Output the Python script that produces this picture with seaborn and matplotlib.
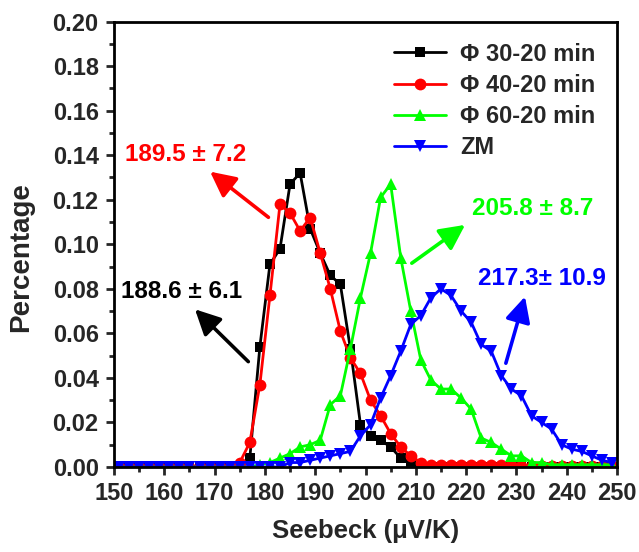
import matplotlib
matplotlib.use("Agg")
import matplotlib.pyplot as plt
import seaborn as sns
import pandas as pd
from matplotlib.ticker import MultipleLocator

sns.set_theme(style="white")
plt.rcParams['font.family'] = ['Liberation Sans', 'DejaVu Sans']
plt.rcParams['font.weight'] = 'bold'
plt.rcParams['mathtext.default'] = 'regular'

seebeck = [151, 153, 155, 157, 159, 161, 163, 165, 167, 169,
           171, 173, 175, 177, 179, 181, 183, 185, 187, 189,
           191, 193, 195, 197, 199, 201, 203, 205, 207, 209,
           211, 213, 215, 217, 219, 221, 223, 225, 227, 229,
           231, 233, 235, 237, 239, 241, 243, 245, 247, 249]

phi_30 = [0, 0, 0, 0, 0, 0, 0, 0, 0, 0,
          0, 0, 0, 0.004, 0.054, 0.091, 0.098, 0.127, 0.132, 0.107,
          0.096, 0.086, 0.082, 0.053, 0.019, 0.014, 0.012, 0.009, 0.004, 0.0015,
          0, 0, 0, 0, 0, 0, 0, 0, 0, 0,
          0, 0, 0, 0, 0, 0, 0, 0, 0, 0]

phi_40 = [0, 0, 0, 0, 0, 0, 0, 0, 0, 0,
          0, 0, 0.002, 0.011, 0.037, 0.077, 0.118, 0.114, 0.106, 0.112,
          0.096, 0.080, 0.061, 0.049, 0.042, 0.030, 0.023, 0.015, 0.009, 0.005,
          0.002, 0.001, 0.001, 0.001, 0.001, 0.001, 0.001, 0.001, 0.001, 0.001,
          0.0005, 0.0005, 0.0005, 0.0005, 0.0005, 0.0005, 0.0005, 0.0005, 0.0005, 0.0005]

phi_60 = [0, 0, 0, 0, 0, 0, 0, 0, 0, 0,
          0, 0, 0, 0, 0.001, 0.002, 0.004, 0.006, 0.009, 0.010,
          0.012, 0.028, 0.032, 0.053, 0.076, 0.096, 0.121, 0.127, 0.094, 0.070,
          0.048, 0.039, 0.035, 0.035, 0.031, 0.026, 0.013, 0.011, 0.008, 0.005,
          0.005, 0.002, 0.002, 0.001, 0.001, 0.001, 0.001, 0.001, 0.001, 0.001]

zm = [0, 0, 0, 0, 0, 0, 0, 0, 0, 0,
      0, 0, 0, 0, 0, 0, 0, 0.002, 0.002, 0.003,
      0.004, 0.005, 0.006, 0.007, 0.014, 0.019, 0.031, 0.041, 0.052, 0.064,
      0.068, 0.076, 0.080, 0.077, 0.070, 0.065, 0.055, 0.052, 0.041, 0.035,
      0.032, 0.023, 0.020, 0.017, 0.010, 0.008, 0.007, 0.005, 0.003, 0.002]

series_names = ["\u03a6 30-20 min", "\u03a6 40-20 min", "\u03a6 60-20 min", "ZM"]
series_values = [phi_30, phi_40, phi_60, zm]
colors = ["#000000", "#FF0000", "#00FF00", "#0000FF"]
markers = ["s", "o", "^", "v"]
msizes = [7, 8.5, 9, 9]

x_ticks = [150, 160, 170, 180, 190, 200, 210, 220, 230, 240, 250]
y_ticks = [0.00, 0.02, 0.04, 0.06, 0.08, 0.10, 0.12, 0.14, 0.16, 0.18, 0.20]

annotations = [
    ("189.5 \u00b1 7.2", (164.3, 0.1401), (180.7, 0.1121), (169.1, 0.1326), "#FF0000"),
    ("188.6 \u00b1 6.1", (163.5, 0.0787), (176.7, 0.0473), (166.1, 0.0708), "#000000"),
    ("205.8 \u00b1 8.7", (233.3, 0.1162), (209.2, 0.0915), (219.8, 0.1087), "#00FF00"),
    ("217.3\u00b1 10.9", (235.0, 0.0847), (227.9, 0.0466), (231.7, 0.0765), "#0000FF"),
]

fig = plt.figure(figsize=(6.39, 5.52), dpi=100)
ax = fig.add_axes([0.1784, 0.154, 0.7872, 0.807])

for name, vals, c, m, ms in zip(series_names, series_values, colors, markers, msizes):
    df = pd.DataFrame({"Seebeck": seebeck, "Percentage": vals})
    sns.lineplot(data=df, x="Seebeck", y="Percentage", ax=ax, color=c,
                 marker=m, markersize=ms, markeredgecolor=c, markeredgewidth=0,
                 linewidth=2, label=name)

for text, tpos, tail, head, c in annotations:
    ax.annotate("", xy=head, xytext=tail,
                arrowprops=dict(arrowstyle="-|>,head_length=0.9,head_width=0.45",
                                color=c, lw=2.6, shrinkA=0, shrinkB=0,
                                mutation_scale=17))
    ax.text(tpos[0], tpos[1], text, color=c, fontsize=17.5, fontweight="bold",
            ha="center", va="center")

ax.set_xlim(150, 250)
ax.set_ylim(0, 0.20)
ax.set_xticks(x_ticks)
ax.set_yticks(y_ticks)
ax.set_xticklabels([str(v) for v in x_ticks])
ax.set_yticklabels([f"{v:.2f}" for v in y_ticks])
ax.xaxis.set_minor_locator(MultipleLocator(5))
ax.yaxis.set_minor_locator(MultipleLocator(0.01))
ax.tick_params(axis="both", which="major", direction="out", length=6, width=2,
               labelsize=17, bottom=True, left=True, top=False, right=False, pad=5)
ax.tick_params(axis="both", which="minor", direction="out", length=3.5, width=2,
               bottom=True, left=True, top=False, right=False)
for lab in ax.get_xticklabels() + ax.get_yticklabels():
    lab.set_fontweight("bold")
for sp in ax.spines.values():
    sp.set_linewidth(2)
    sp.set_color("black")

ax.set_xlabel("Seebeck (\u03bcV/K)", fontsize=18.5, fontweight="bold", labelpad=10)
ax.set_ylabel("Percentage", fontsize=20, fontweight="bold")
ax.yaxis.set_label_coords(-0.158, 0.471)

leg = ax.legend(loc="upper right", bbox_to_anchor=(0.99, 0.99), frameon=False,
                prop={"size": 17, "weight": "bold"}, handlelength=2.2,
                handletextpad=0.6, labelspacing=0.35, borderaxespad=0.3)

fig.savefig("out.png", dpi=100)
